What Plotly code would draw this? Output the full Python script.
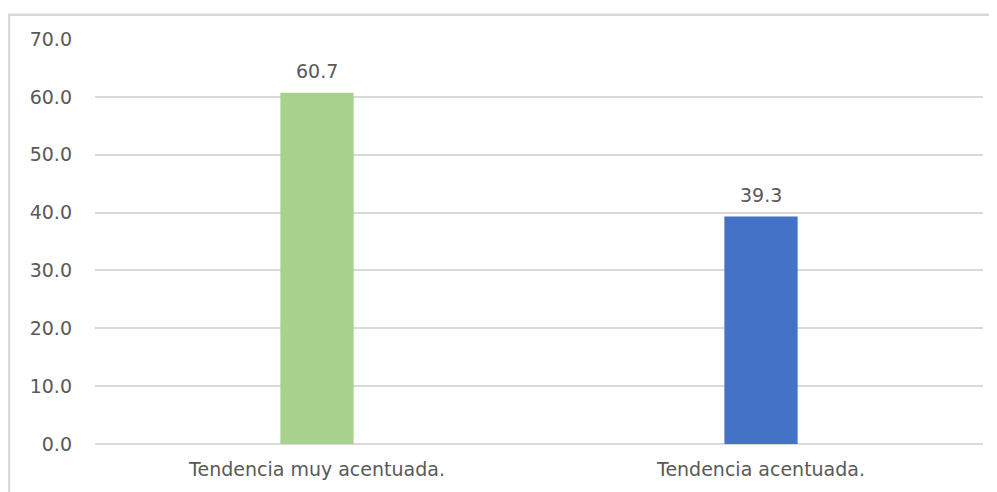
import plotly.graph_objects as go

categories = ["Tendencia muy acentuada.", "Tendencia acentuada."]
values = [60.7, 39.3]
colors = ["#A9D18E", "#4472C4"]
tick_vals = [0, 10, 20, 30, 40, 50, 60, 70]
tick_text = ["0.0", "10.0", "20.0", "30.0", "40.0", "50.0", "60.0", "70.0"]

# page body has an 8px offset; size the figure to fit the window
OFF = 8
W, H = 997 - OFF, 492 - OFF
L, R, T, B = 95 - OFF, 14, 38.5 - OFF, 46
pw, ph = W - L - R, H - T - B

font = dict(family="DejaVu Sans", size=19, color="#595959")

fig = go.Figure()
fig.add_trace(go.Bar(
    x=categories, y=values, marker=dict(color=colors, line=dict(width=0)),
    width=0.165, hoverinfo="skip",
))

for c, v in zip(categories, values):
    fig.add_annotation(x=c, y=v, text=f"{v:.1f}", showarrow=False,
                       yanchor="bottom", yshift=9, font=font)

# outer chart border (partially visible)
x0 = (9 - OFF - L) / pw
x1 = (W + 10 - L) / pw
ytop = (H - B - (14 - OFF)) / ph
ybot = -(B + 10) / ph
fig.add_shape(type="path", xref="paper", yref="paper",
              path=f"M {x0} {ybot} L {x0} {ytop} L {x1} {ytop}",
              line=dict(color="#D9D9D9", width=2.5), layer="below")

fig.update_layout(
    width=W, height=H,
    margin=dict(l=L, r=R, t=T, b=B, pad=0),
    paper_bgcolor="white", plot_bgcolor="white",
    showlegend=False, font=font,
    xaxis=dict(showgrid=False, showline=False, zeroline=False, ticks="",
               tickfont=font, ticklabelstandoff=12),
    yaxis=dict(range=[0, 70], tickvals=tick_vals, ticktext=tick_text,
               showgrid=True, gridcolor="#D9D9D9", gridwidth=1.5,
               zeroline=True, zerolinecolor="#D9D9D9", zerolinewidth=1.5,
               showline=False, ticks="", tickfont=font, ticklabelstandoff=22),
)

fig.write_html("out.html")
